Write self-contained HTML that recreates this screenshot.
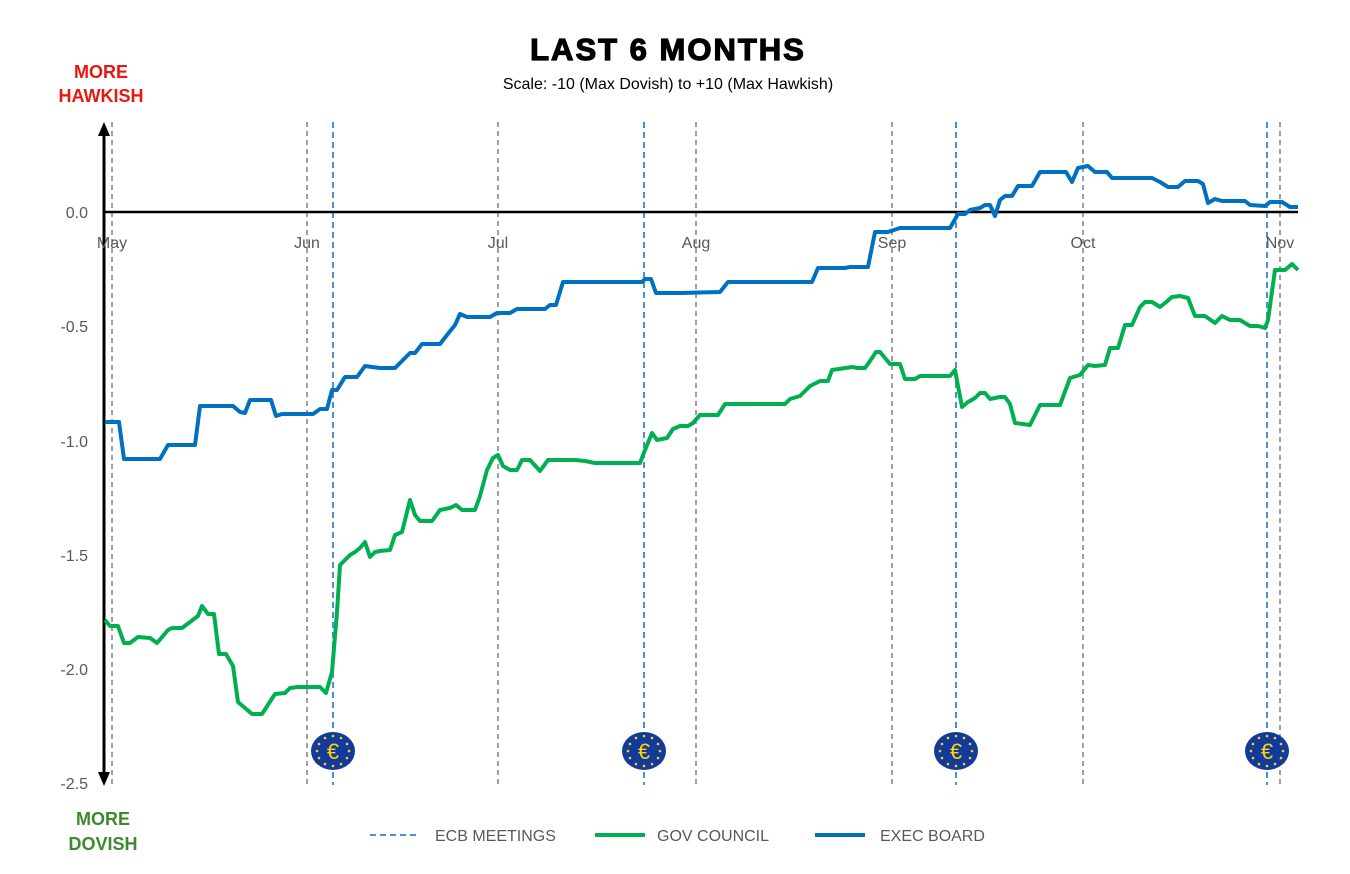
<!DOCTYPE html>
<html><head><style>body{margin:0;background:#fff}svg text{font-family:"Liberation Sans",sans-serif}</style></head><body>
<svg width="1350" height="869" xmlns="http://www.w3.org/2000/svg">
<text x="668" y="60" font-size="31" font-weight="bold" text-anchor="middle" letter-spacing="2" stroke="#000" stroke-width="1.2">LAST 6 MONTHS</text>
<text x="668" y="89" font-size="16" text-anchor="middle">Scale: -10 (Max Dovish)  to +10 (Max Hawkish)</text>
<text x="101" y="78" font-size="18" font-weight="bold" fill="#e8170f" text-anchor="middle">MORE</text>
<text x="101" y="102" font-size="18" font-weight="bold" fill="#e8170f" text-anchor="middle">HAWKISH</text>
<text x="103" y="825" font-size="18" font-weight="bold" fill="#3d8a2b" text-anchor="middle">MORE</text>
<text x="103" y="850" font-size="18" font-weight="bold" fill="#3d8a2b" text-anchor="middle">DOVISH</text>
<g stroke="#808080" stroke-width="1.5" stroke-dasharray="5,4">
<line x1="112" y1="122" x2="112" y2="785"/><line x1="307" y1="122" x2="307" y2="785"/><line x1="498" y1="122" x2="498" y2="785"/><line x1="696" y1="122" x2="696" y2="785"/><line x1="892" y1="122" x2="892" y2="785"/><line x1="1083" y1="122" x2="1083" y2="785"/><line x1="1280" y1="122" x2="1280" y2="785"/>
</g>
<g stroke="#4a90d9" stroke-width="2" stroke-dasharray="6,4">
<line x1="333" y1="122" x2="333" y2="785"/><line x1="644" y1="122" x2="644" y2="785"/><line x1="956" y1="122" x2="956" y2="785"/><line x1="1267" y1="122" x2="1267" y2="785"/>
</g>
<line x1="104" y1="212" x2="1298" y2="212" stroke="#000" stroke-width="2.5"/>
<line x1="104" y1="135" x2="104" y2="775" stroke="#000" stroke-width="3"/>
<polygon points="104,122 98,136 110,136" fill="#000"/><polygon points="104,786 98,772 110,772" fill="#000"/>
<g font-size="16" fill="#595959" text-anchor="end">
<text x="88" y="218">0.0</text><text x="88" y="332">-0.5</text><text x="88" y="447">-1.0</text><text x="88" y="561">-1.5</text><text x="88" y="675">-2.0</text><text x="88" y="789">-2.5</text>
</g>
<g font-size="16" fill="#595959" text-anchor="middle">
<text x="112" y="248">May</text><text x="307" y="248">Jun</text><text x="498" y="248">Jul</text><text x="696" y="248">Aug</text><text x="892" y="248">Sep</text><text x="1083" y="248">Oct</text><text x="1280" y="248">Nov</text>
</g>
<polyline fill="none" stroke="#0070c0" stroke-width="4" stroke-linejoin="round" points="105,422 119,422 124,459 160,459 168,445 195,445 200,406 233,406 240,412 245,413 250,400 271,400 276,416 282,414 313,414 320,409 327,409 332,390 337,390 345,377 357,377 365,366 372,367 380,368 395,368 402,361 410,353 415,353 422,344 440,344 447,335 455,325 460,314 467,317 490,317 497,313 510,313 517,309 545,309 550,305 556,305 563,282 642,282 645,279 651,279 656,293 680,293 720,292 728,282 812,282 818,268 845,268 850,267 868,267 875,232 888,232 900,228 950,228 958,214 965,214 970,210 980,208 985,205 990,205 995,216 1000,200 1005,196 1012,196 1018,186 1032,186 1040,172 1066,172 1072,182 1078,168 1088,166 1095,172 1107,172 1112,178 1152,178 1160,182 1168,187 1178,187 1185,181 1198,181 1203,184 1208,203 1215,199 1222,201 1245,201 1250,205 1265,206 1270,202 1282,202 1290,207 1298,207"/>
<polyline fill="none" stroke="#00b050" stroke-width="4" stroke-linejoin="round" points="105,620 110,626 118,626 124,643 130,643 138,637 150,638 157,643 168,630 172,628 182,628 190,622 198,616 202,606 208,614 214,614 219,654 226,654 233,666 238,702 252,714 262,714 275,694 285,693 290,688 298,687 320,687 326,693 332,672 337,612 340,565 345,560 350,555 355,552 360,548 365,542 370,557 375,552 380,551 390,550 395,535 402,532 410,500 415,515 420,521 432,521 440,510 450,508 456,505 462,510 475,510 480,496 487,470 493,458 498,455 503,466 510,470 517,470 522,460 530,460 540,471 548,460 575,460 585,461 595,463 640,463 645,450 652,433 657,440 667,438 673,429 680,426 688,426 693,423 700,415 718,415 725,404 785,404 790,399 800,396 810,386 820,381 828,381 832,370 852,367 858,368 865,368 870,361 876,352 880,352 890,364 900,364 905,379 915,379 920,376 950,376 955,370 962,407 968,402 975,398 980,393 985,393 990,399 1000,397 1005,397 1010,404 1015,423 1030,425 1040,405 1060,405 1070,378 1080,375 1088,365 1095,366 1105,365 1110,348 1118,348 1125,325 1132,325 1140,307 1145,302 1152,302 1160,307 1165,303 1172,297 1180,296 1188,298 1195,316 1205,316 1215,323 1222,316 1230,320 1240,320 1250,326 1258,326 1265,328 1268,320 1275,270 1285,270 1292,264 1298,270"/>
<defs><g id="eu"><ellipse cx="0" cy="0" rx="22" ry="19" fill="#123a9c"/>
<g fill="#ffd400"><circle cx="0" cy="-15" r="1.3"/><circle cx="8" cy="-13" r="1.3"/><circle cx="14" cy="-7" r="1.3"/><circle cx="16" cy="0" r="1.3"/><circle cx="14" cy="7" r="1.3"/><circle cx="8" cy="13" r="1.3"/><circle cx="0" cy="15" r="1.3"/><circle cx="-8" cy="13" r="1.3"/><circle cx="-14" cy="7" r="1.3"/><circle cx="-16" cy="0" r="1.3"/><circle cx="-14" cy="-7" r="1.3"/><circle cx="-8" cy="-13" r="1.3"/></g>
<text x="0" y="8" font-size="22" fill="#ffd400" text-anchor="middle">€</text></g></defs>
<use href="#eu" x="333" y="751"/><use href="#eu" x="644" y="751"/><use href="#eu" x="956" y="751"/><use href="#eu" x="1267" y="751"/>
<line x1="370" y1="835" x2="420" y2="835" stroke="#4a90d9" stroke-width="2" stroke-dasharray="6,4"/>
<text x="435" y="841" font-size="16" fill="#595959">ECB MEETINGS</text>
<line x1="595" y1="835" x2="645" y2="835" stroke="#00b050" stroke-width="4"/>
<text x="657" y="841" font-size="16" fill="#595959">GOV COUNCIL</text>
<line x1="815" y1="835" x2="865" y2="835" stroke="#0070c0" stroke-width="4"/>
<text x="880" y="841" font-size="16" fill="#595959">EXEC BOARD</text>
</svg>
</body></html>
